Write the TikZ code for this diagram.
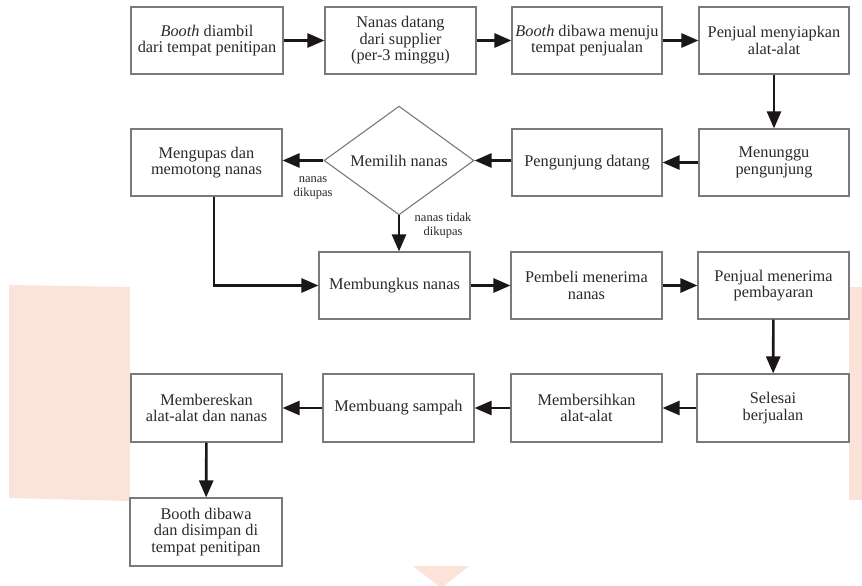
\documentclass[tikz,border=0pt]{standalone}
\usepackage{fontspec}
\setmainfont{Liberation Serif}
\usetikzlibrary{arrows.meta,shapes.geometric}
\definecolor{peach}{HTML}{FBE3D9}
\definecolor{boxline}{HTML}{7A7A7A}
\definecolor{arrowc}{HTML}{1C1717}
\definecolor{txt}{HTML}{2A2A2A}
\begin{document}
\begin{tikzpicture}[x=1pt,y=-1pt,
  box/.style={draw=boxline, line width=1.1pt, fill=white, minimum height=67pt,
    inner sep=0pt, align=center, text=txt, font=\fontsize{16.3}{16.5}\selectfont},
  dec/.style={shape=diamond, draw=boxline, line width=1.1pt, fill=white,
    minimum width=150pt, minimum height=98pt, inner sep=0pt, text=txt,
    font=\fontsize{16.3}{16.5}\selectfont},
  flow/.style={draw=arrowc, line width=2.6pt, -{Triangle[length=17pt,width=14pt]}},
  lbl/.style={font=\fontsize{12.5}{13.5}\selectfont, align=center, text=txt}]
\useasboundingbox (0,0) rectangle (862,586);
% background
\fill[white] (0,0) rectangle (862,586);
\fill[peach] (9,285) -- (130,287) -- (130,501) -- (9,498) -- cycle;
\fill[peach] (849,287) -- (862,287) -- (862,500) -- (849,500) -- cycle;
\fill[peach] (413,566) -- (469,566) -- (441,588) -- cycle;
\fill[white] (130,0) rectangle (849,566);
% row 1
\node[box, minimum width=152pt] (b1) at (207,40.5) {\textit{Booth} diambil\\dari tempat penitipan};
\node[box, minimum width=151pt] (b2) at (400.5,40.5) {Nanas datang\\dari supplier\\(per-3 minggu)};
\node[box, minimum width=150pt] (b3) at (587,40.5) {\textit{Booth} dibawa menuju\\tempat penjualan};
\node[box, minimum width=150pt] (b4) at (774,40.5) {Penjual menyiapkan\\alat-alat};
% row 2
\node[box, minimum width=151pt] (m1) at (206.5,162.5) {Mengupas dan\\memotong nanas};
\node[dec] (d) at (399,160.5) {Memilih nanas};
\node[box, minimum width=150pt] (pd) at (587,162.5) {Pengunjung datang};
\node[box, minimum width=150pt] (mp) at (774,162.5) {Menunggu\\pengunjung};
% row 3
\node[box, minimum width=151pt] (mb) at (394.5,285.5) {Membungkus nanas};
\node[box, minimum width=151pt] (pm) at (586.5,285.5) {Pembeli menerima\\nanas};
\node[box, minimum width=151pt] (pj) at (773.5,285.5) {Penjual menerima\\pembayaran};
% row 4
\node[box, minimum width=151pt, minimum height=68pt] (mr) at (206.5,408) {Membereskan\\alat-alat dan nanas};
\node[box, minimum width=151pt, minimum height=68pt] (ms) at (398.5,408) {Membuang sampah};
\node[box, minimum width=151pt, minimum height=68pt] (mh) at (586.5,408) {Membersihkan\\alat-alat};
\node[box, minimum width=152pt, minimum height=68pt] (sb) at (773,408) {Selesai\\berjualan};
% row 5
\node[box, minimum width=152pt, minimum height=68pt] (bd) at (206,532) {Booth dibawa\\dan disimpan di\\tempat penitipan};
% labels
\node[lbl] (l1) at (313,188) {nanas\\dikupas};
\node[lbl] (l2) at (443,225.5) {nanas tidak\\dikupas};
% connectors
\draw[flow] (b1) -- (b2);
\draw[flow] (b2) -- (b3);
\draw[flow] (b3) -- (b4);
\draw[flow] (b4) -- (mp);
\draw[flow] (mp) -- (pd);
\draw[flow] (pd.west |- d.east) -- (d.east);
\draw[flow] (d.west) -- (d.west -| m1.east);
\draw[flow] (d.south) -- (d.south |- mb.north);
\draw[flow] ([xshift=7.5pt]m1.south) |- (mb.west);
\draw[flow] (mb) -- (pm);
\draw[flow] (pm) -- (pj);
\draw[flow] (pj) -- (sb);
\draw[flow] (sb) -- (mh);
\draw[flow] (mh) -- (ms);
\draw[flow] (ms) -- (mr);
\draw[flow] (mr) -- (bd);
\end{tikzpicture}
\end{document}
